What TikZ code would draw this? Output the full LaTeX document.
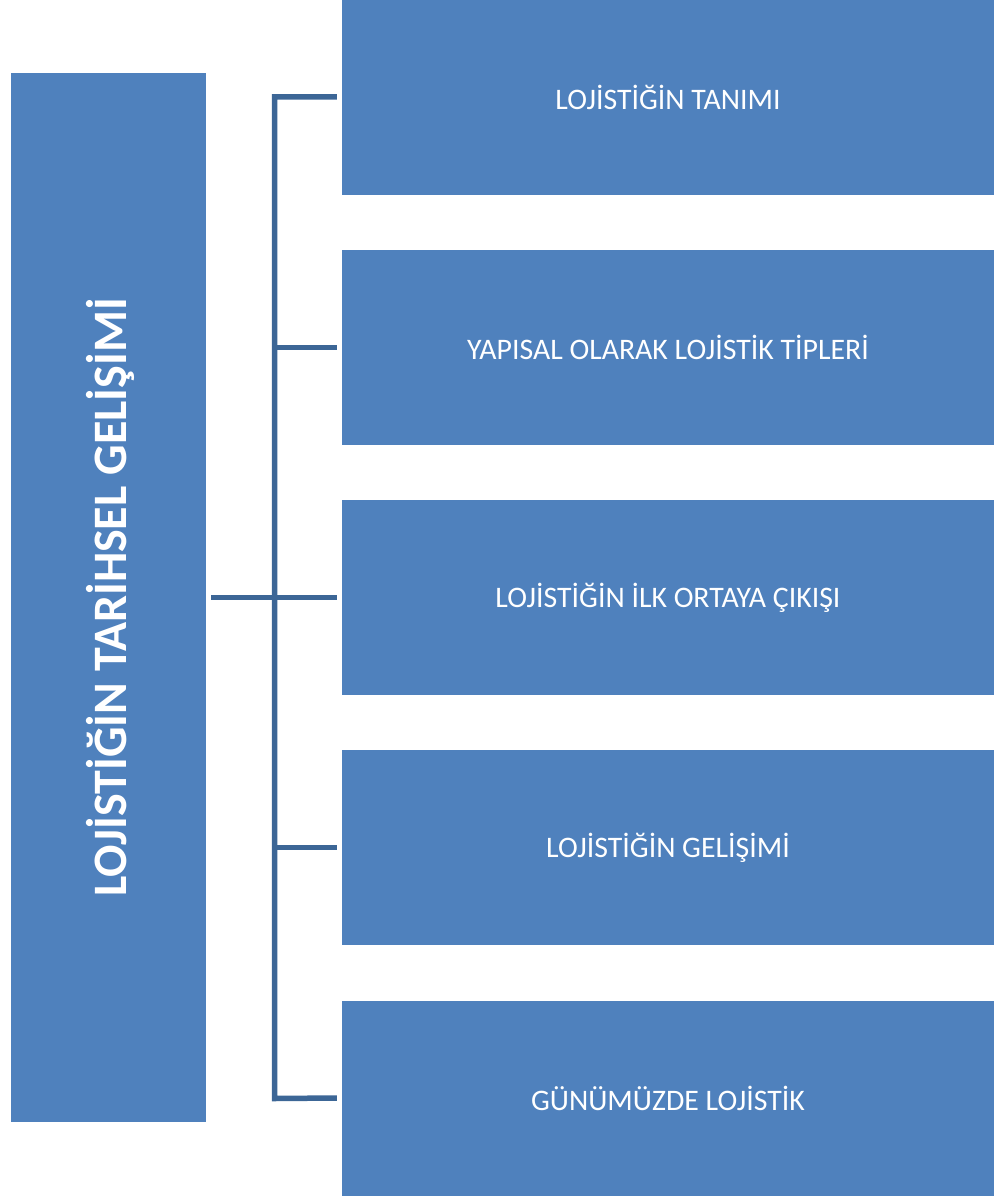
\documentclass[tikz,border=0pt]{standalone}
\usepackage{fontspec}
\setmainfont{Carlito}
\definecolor{boxblue}{HTML}{4F81BD}
\definecolor{lineblue}{HTML}{3C6696}
\begin{document}
\begin{tikzpicture}[x=1pt,y=-1pt,
  itembox/.style={fill=boxblue, draw=none, minimum width=652pt, minimum height=195pt, inner sep=0pt, text=white, font=\fontsize{29.8}{34}\selectfont},
  mainbox/.style={fill=boxblue, draw=none, minimum width=195pt, minimum height=1049pt, inner sep=0pt},
  conn/.style={draw=lineblue, line width=5.5pt}]
\useasboundingbox (0,0) rectangle (1002,1196);
\node[mainbox] (main) at (108.5,597.5) {};
\node[rotate=90, text=white, font=\fontsize{48}{52}\selectfont\bfseries] (maintext) at ([xshift=2pt]main.center) {LOJİSTİĞİN TARİHSEL GELİŞİMİ};
\node[itembox] (b1) at (668,97) {LOJİSTİĞİN TANIMI};
\node[itembox] (b2) at (668,347.5) {YAPISAL OLARAK LOJİSTİK TİPLERİ};
\node[itembox] (b3) at (668,597.5) {LOJİSTİĞİN İLK ORTAYA ÇIKIŞI};
\node[itembox] (b4) at (668,847.5) {LOJİSTİĞİN GELİŞİMİ};
\node[itembox] (b5) at (668,1098) {GÜNÜMÜZDE LOJİSTİK};
\coordinate (top) at (274.5,97);
\coordinate (bot) at (274.5,1098.5);
\draw[conn] ([xshift=-5pt]b1.west) -- (top) -- (bot) -- ([xshift=-5pt]b5.west);
\draw[conn] ([xshift=5pt]main.east) -- ([xshift=-5pt]b3.west);
\draw[conn] ([xshift=-5pt]b2.west) -- (b2.west -| top);
\draw[conn] ([xshift=-5pt]b4.west) -- (b4.west -| top);
\end{tikzpicture}
\end{document}
